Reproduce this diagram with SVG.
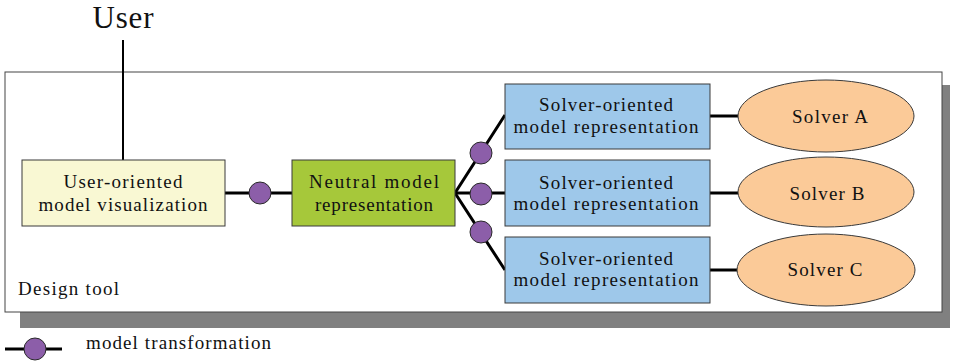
<svg xmlns="http://www.w3.org/2000/svg" width="954" height="364" viewBox="0 0 954 364" font-family="'Liberation Serif', 'Times New Roman', Times, serif">
  <style>
    text { fill: #111; }
    .lbl { font-size: 19px; text-anchor: middle; }
    .box { stroke: #3a3a3a; stroke-width: 1; }
    .user { fill: #f9f8d3; }
    .neutral { fill: #a6c83a; }
    .solverrep { fill: #9ec8ea; }
    .solver { fill: #fbca98; stroke: #3a3a3a; stroke-width: 1; }
    .wire { stroke: #000; stroke-width: 3; fill: none; }
    .xf { fill: #8c5ea9; stroke: #2a2a2a; stroke-width: 1; }
  </style>

  <!-- Design tool frame with drop shadow -->
  <g id="design-tool">
    <rect x="20" y="85" width="930" height="243" fill="#808080"/>
    <rect x="5" y="72" width="937" height="240" fill="#fff" stroke="#444" stroke-width="1"/>
    <text x="18" y="295" font-size="19" textLength="101" lengthAdjust="spacing">Design tool</text>
  </g>

  <!-- Connectors and transformation markers -->
  <g id="connectors">
    <line x1="123" y1="40" x2="123" y2="160" stroke="#000" stroke-width="2"/>
    <line class="wire" x1="225" y1="193" x2="292" y2="193"/>
    <polyline class="wire" points="505,115 455,193 505,270"/>
    <line class="wire" x1="455" y1="193" x2="505" y2="193"/>
    <line class="wire" x1="710" y1="116" x2="738" y2="116"/>
    <line class="wire" x1="710" y1="193" x2="738" y2="193"/>
    <line class="wire" x1="710" y1="270" x2="738" y2="270"/>
    <circle class="xf" cx="260" cy="193" r="11"/>
    <circle class="xf" cx="481" cy="153" r="11"/>
    <circle class="xf" cx="481" cy="194" r="11"/>
    <circle class="xf" cx="481" cy="232" r="11"/>
  </g>

  <g id="user">
    <text x="123" y="28" font-size="31" text-anchor="middle" textLength="61" lengthAdjust="spacing">User</text>
  </g>

  <g id="user-visualization">
    <rect class="box user" x="22" y="160" width="203" height="66"/>
    <text class="lbl" x="123" y="188" textLength="119" lengthAdjust="spacing">User-oriented</text>
    <text class="lbl" x="123" y="211" textLength="169" lengthAdjust="spacing">model visualization</text>
  </g>

  <g id="neutral-model">
    <rect class="box neutral" x="292" y="160" width="163" height="66"/>
    <text class="lbl" x="374" y="188" textLength="130" lengthAdjust="spacing">Neutral model</text>
    <text class="lbl" x="374" y="211" textLength="118" lengthAdjust="spacing">representation</text>
  </g>

  <g id="solver-rep-a">
    <rect class="box solverrep" x="505" y="84" width="205" height="65"/>
    <text class="lbl" x="606" y="111" textLength="134" lengthAdjust="spacing">Solver-oriented</text>
    <text class="lbl" x="606" y="133" textLength="185" lengthAdjust="spacing">model representation</text>
  </g>

  <g id="solver-rep-b">
    <rect class="box solverrep" x="505" y="160" width="205" height="66"/>
    <text class="lbl" x="606" y="189" textLength="134" lengthAdjust="spacing">Solver-oriented</text>
    <text class="lbl" x="606" y="210" textLength="185" lengthAdjust="spacing">model representation</text>
  </g>

  <g id="solver-rep-c">
    <rect class="box solverrep" x="505" y="237" width="205" height="66"/>
    <text class="lbl" x="606" y="265" textLength="134" lengthAdjust="spacing">Solver-oriented</text>
    <text class="lbl" x="606" y="286" textLength="185" lengthAdjust="spacing">model representation</text>
  </g>

  <g id="solver-a">
    <ellipse class="solver" cx="826" cy="116" rx="88" ry="36"/>
    <text class="lbl" x="830" y="123" textLength="76" lengthAdjust="spacing">Solver A</text>
  </g>

  <g id="solver-b">
    <ellipse class="solver" cx="826" cy="192" rx="88" ry="35"/>
    <text class="lbl" x="827" y="200" textLength="75" lengthAdjust="spacing">Solver B</text>
  </g>

  <g id="solver-c">
    <ellipse class="solver" cx="826" cy="270" rx="89" ry="36"/>
    <text class="lbl" x="825" y="276" textLength="75" lengthAdjust="spacing">Solver C</text>
  </g>

  <!-- Legend -->
  <g id="legend">
    <line class="wire" x1="5" y1="349" x2="62" y2="349"/>
    <circle class="xf" cx="35" cy="349" r="11"/>
    <text x="86" y="349" font-size="19" textLength="185" lengthAdjust="spacing">model transformation</text>
  </g>
</svg>
